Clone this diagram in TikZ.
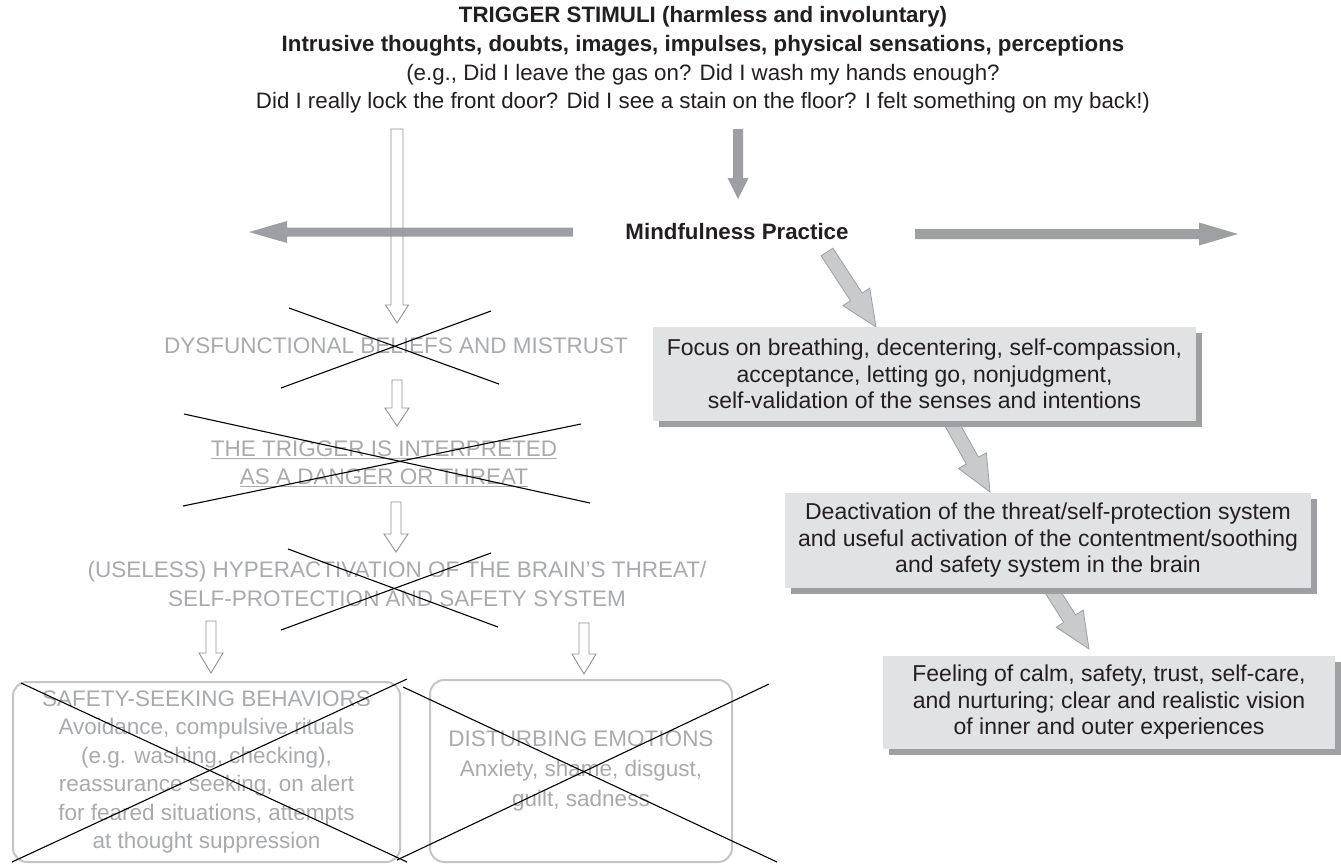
\documentclass[tikz,border=0pt]{standalone}
\usepackage{fontspec}
\setmainfont{Liberation Sans}
\usetikzlibrary{calc,shadows}
\definecolor{ink}{RGB}{35,31,32}
\definecolor{faded}{RGB}{168,170,173}
\definecolor{fadedline}{RGB}{196,197,199}
\definecolor{arrowgray}{RGB}{157,159,162}
\definecolor{diagfill}{RGB}{201,202,204}
\definecolor{boxfill}{RGB}{225,226,228}
\definecolor{hollowline}{RGB}{143,145,148}
% #1 style, #2 tail coordinate, #3 tip coordinate, #4 half shaft, #5 half head, #6 head length
\newcommand\blockarrow[6]{%
  \coordinate (ba-h) at ($(#3)!#6!(#2)$);
  \filldraw[#1] ($(#2)!#4!90:(#3)$) -- ($(ba-h)!#4!-90:(#2)$) -- ($(ba-h)!#5!-90:(#2)$) -- (#3)
    -- ($(ba-h)!#5!90:(#2)$) -- ($(ba-h)!#4!90:(#2)$) -- ($(#2)!#4!-90:(#3)$) -- cycle;}
\begin{document}
\begin{tikzpicture}[x=1pt,y=-1pt,
  titletxt/.style={align=center, text=ink, inner sep=0pt, font={\fontsize{22.3}{28.7}\selectfont}},
  mindtxt/.style={text=ink, inner sep=0pt, font={\fontsize{22.3}{27}\selectfont\bfseries}},
  fadedtxt/.style={align=center, text=faded, inner sep=0pt, font={\fontsize{22.5}{28.2}\selectfont}},
  fadedbox/.style={align=center, text=faded, draw=fadedline, line width=2pt, rounded corners=14pt,
     inner sep=0pt, font={\fontsize{22.5}{28.4}\selectfont}},
  rbox/.style={align=center, text=ink, fill=boxfill, inner sep=0pt,
     font={\fontsize{23}{26.5}\selectfont},
     drop shadow={shadow xshift=5.5pt, shadow yshift=-5.5pt, fill=arrowgray, opacity=1}},
  solidarrow/.style={fill=arrowgray, draw=none},
  diagarrow/.style={fill=diagfill, draw=arrowgray, line width=0.8pt, line join=miter},
  hollowarrow/.style={fill=none, draw=hollowline, line width=0.9pt, line join=miter},
  crossline/.style={draw=black, line width=1.1pt}]
\fill[white] (0,0) rectangle (1341,863);
\useasboundingbox (0,0) rectangle (1341,863);

% texts
\node[titletxt] (title) at (703,60) {{\bfseries TRIGGER STIMULI (harmless and involuntary)}\\
{\bfseries Intrusive thoughts, doubts, images, impulses, physical sensations, perceptions}\\
(e.g., Did I leave the gas on? Did I wash my hands enough?\\
Did I really lock the front door? Did I see a stain on the floor? I felt something on my back!)};
\node[mindtxt] (mind) at (737,232) {Mindfulness Practice};

\node[fadedtxt] (dys) at (396,346) {DYSFUNCTIONAL BELIEFS AND MISTRUST};
\node[fadedtxt] (trig) at (384,464) {\underline{THE TRIGGER IS INTERPRETED}\\\underline{AS A DANGER OR THREAT}};
\node[fadedtxt] (hyp) at (397,584) {(USELESS) HYPERACTIVATION OF THE BRAIN’S THREAT/\\SELF-PROTECTION AND SAFETY SYSTEM};

\node[fadedbox, minimum width=387pt, minimum height=180pt] (ssb) at (206.5,772)
  {SAFETY-SEEKING BEHAVIORS\\Avoidance, compulsive rituals\\(e.g. washing, checking),\\reassurance seeking, on alert\\for feared situations, attempts\\at thought suppression};
\node[fadedbox, minimum width=302pt, minimum height=182pt, font={\fontsize{22.5}{30}\selectfont}] (emo) at (581,771)
  {DISTURBING EMOTIONS\\Anxiety, shame, disgust,\\guilt, sadness};

% connector coordinates
\coordinate (a1s) at (397,129);   \coordinate (a1e) at (397,323);
\coordinate (a2s) at (397,380);   \coordinate (a2e) at (397,426);
\coordinate (a3s) at (396,502);   \coordinate (a3e) at (396,552);
\coordinate (a4s) at (211,621);   \coordinate (a4e) at (211,673);
\coordinate (a5s) at (584,623);   \coordinate (a5e) at (584,674);
\coordinate (gds) at (738,129);   \coordinate (gde) at (738,199);
\coordinate (gls) at (573,232);   \coordinate (gle) at (249,232);
\coordinate (grs) at (915,234);   \coordinate (gre) at (1238,234);
\coordinate (d1s) at (827,252);   \coordinate (d1e) at (876,327);
\coordinate (d2s) at (944,410);   \coordinate (d2e) at (990,492);
\coordinate (d3s) at (1042,575);  \coordinate (d3e) at (1089,649);

% diagonal arrows (behind boxes)
\blockarrow{diagarrow}{d1s}{d1e}{7pt}{16pt}{36pt}
\blockarrow{diagarrow}{d2s}{d2e}{7pt}{16pt}{36pt}
\blockarrow{diagarrow}{d3s}{d3e}{7pt}{16pt}{36pt}

% right boxes
\node[rbox, minimum width=543pt, minimum height=94pt] (focus) at (924.5,374)
  {Focus on breathing, decentering, self-compassion,\\acceptance, letting go, nonjudgment,\\self-validation of the senses and intentions};
\node[rbox, minimum width=526pt, minimum height=95pt] (deact) at (1048,540.5)
  {Deactivation of the threat/self-protection system\\and useful activation of the contentment/soothing\\and safety system in the brain};
\node[rbox, minimum width=452pt, minimum height=93pt] (feel) at (1109,702.5)
  {Feeling of calm, safety, trust, self-care,\\and nurturing; clear and realistic vision\\of inner and outer experiences};

% solid gray arrows
\blockarrow{solidarrow}{gds}{gde}{5pt}{10.5pt}{21pt}
\blockarrow{solidarrow}{gls}{gle}{4.5pt}{11pt}{38pt}
\blockarrow{solidarrow}{grs}{gre}{5pt}{11.5pt}{39pt}

% hollow arrows
\blockarrow{hollowarrow}{a1s}{a1e}{6pt}{11.5pt}{18pt}
\blockarrow{hollowarrow}{a2s}{a2e}{5pt}{12pt}{18pt}
\blockarrow{hollowarrow}{a3s}{a3e}{5pt}{12pt}{18pt}
\blockarrow{hollowarrow}{a4s}{a4e}{5pt}{12pt}{20pt}
\blockarrow{hollowarrow}{a5s}{a5e}{5pt}{12pt}{20pt}

% crosses
\draw[crossline] (289,308) -- (499,384);
\draw[crossline] (281,388) -- (491,311);
\draw[crossline] (184,414) -- (590,503);
\draw[crossline] (183,506) -- (581,424);
\draw[crossline] (288,549) -- (498,627);
\draw[crossline] (281,630) -- (491,553);
\draw[crossline] (21,683) -- (407,862);
\draw[crossline] (407,679) -- (12,862);
\draw[crossline] (403,687) -- (777,862);
\draw[crossline] (397,860) -- (769,684);
\end{tikzpicture}
\end{document}
